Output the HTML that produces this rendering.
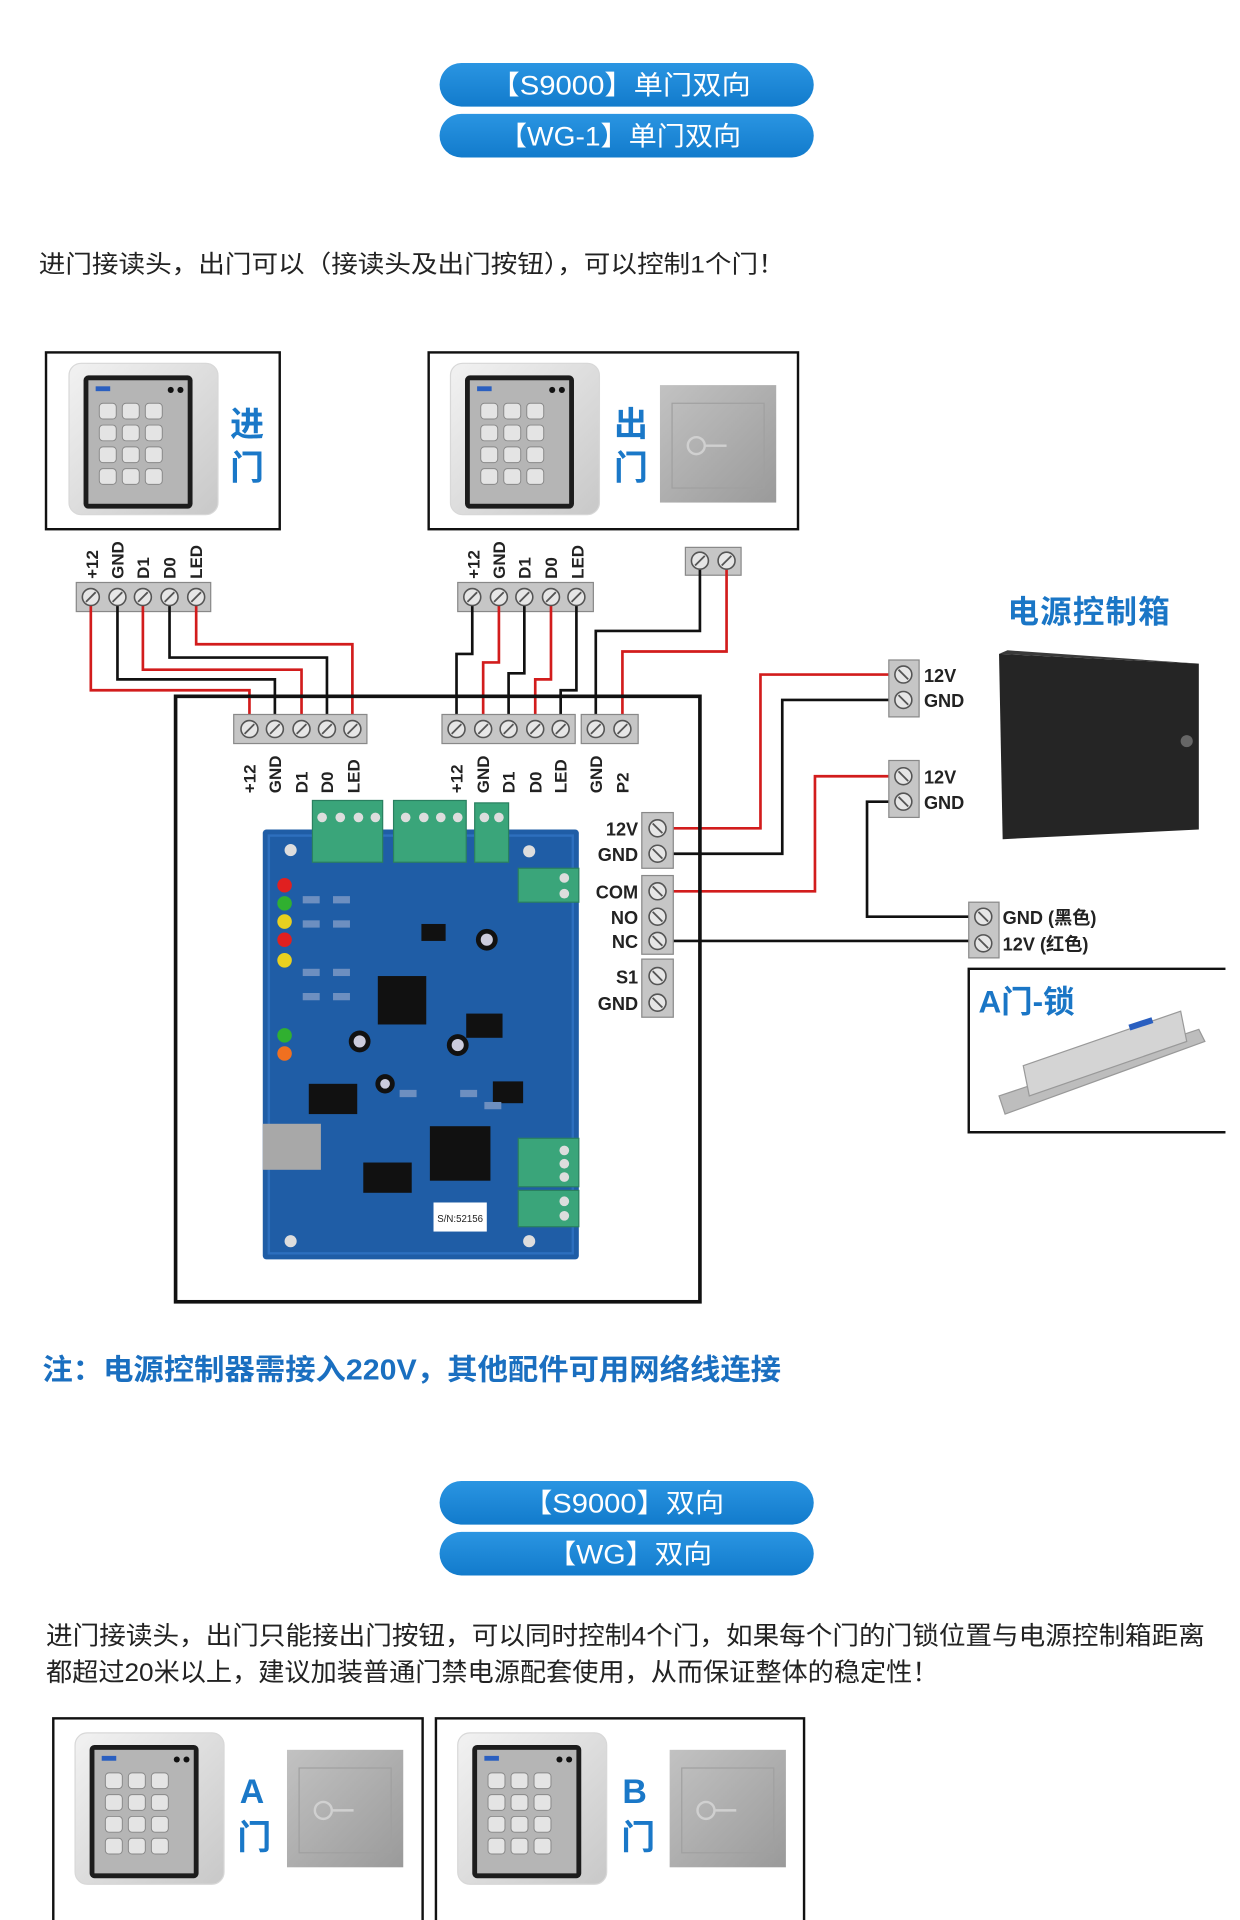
<!DOCTYPE html>
<html><head><meta charset="utf-8"><style>
html,body{margin:0;padding:0;background:#fff;}
svg{display:block;}
text{font-family:"Liberation Sans","Noto Sans CJK SC",sans-serif;}
</style></head><body>
<svg width="1240" height="1920" viewBox="0 0 1024 1585.5" xmlns="http://www.w3.org/2000/svg">
<defs>
<linearGradient id="pill" x1="0" y1="0" x2="0" y2="1"><stop offset="0" stop-color="#2a95e2"/><stop offset="1" stop-color="#127bcc"/></linearGradient>
<linearGradient id="btn" x1="0" y1="0" x2="1" y2="1"><stop offset="0" stop-color="#c2c2c2"/><stop offset="1" stop-color="#9a9a9a"/></linearGradient>
<linearGradient id="kp" x1="0" y1="0" x2="1" y2="1"><stop offset="0" stop-color="#f2f2f2"/><stop offset="1" stop-color="#c8c8c8"/></linearGradient>
<g id="keypad">
<rect x="0" y="0" width="123" height="125" rx="10" fill="url(#kp)" stroke="#d8d8d8"/>
<rect x="12" y="10" width="90" height="110" rx="4" fill="#1c1c1c"/>
<rect x="16" y="14" width="82" height="102" fill="#b5b5b5"/>
<circle cx="84" cy="22" r="2.5" fill="#111"/><circle cx="92" cy="22" r="2.5" fill="#111"/>
<rect x="22" y="19" width="12" height="4" fill="#2a5fc0"/>
<g fill="#e4e4e4" stroke="#888" stroke-width="0.8">
<rect x="25" y="33" width="14" height="13" rx="3"/><rect x="44" y="33" width="14" height="13" rx="3"/><rect x="63" y="33" width="14" height="13" rx="3"/>
<rect x="25" y="51" width="14" height="13" rx="3"/><rect x="44" y="51" width="14" height="13" rx="3"/><rect x="63" y="51" width="14" height="13" rx="3"/>
<rect x="25" y="69" width="14" height="13" rx="3"/><rect x="44" y="69" width="14" height="13" rx="3"/><rect x="63" y="69" width="14" height="13" rx="3"/>
<rect x="25" y="87" width="14" height="13" rx="3"/><rect x="44" y="87" width="14" height="13" rx="3"/><rect x="63" y="87" width="14" height="13" rx="3"/>
</g>
</g>
<g id="exitbtn">
<rect x="0" y="0" width="96" height="97" fill="url(#btn)"/>
<rect x="10" y="15" width="76" height="70" fill="none" stroke="#a0a0a0"/>
<circle cx="30" cy="50" r="7" fill="none" stroke="#d0d0d0" stroke-width="2"/>
<line x1="37" y1="50" x2="55" y2="50" stroke="#d0d0d0" stroke-width="2"/>
</g>
<g id="screw"><circle r="7" fill="#e6e6e6" stroke="#555" stroke-width="1.3"/><line x1="-4" y1="4" x2="4" y2="-4" stroke="#555" stroke-width="1.5"/></g>
<g id="screwh"><circle r="7" fill="#e6e6e6" stroke="#555" stroke-width="1.3"/><line x1="-4" y1="-4" x2="4" y2="4" stroke="#555" stroke-width="1.5"/></g>
</defs>

<!-- pills -->
<rect x="363" y="52" width="309" height="36" rx="18" fill="url(#pill)"/>
<text x="405" y="78" font-size="22" fill="#fff" textLength="215" lengthAdjust="spacingAndGlyphs">【S9000】单门双向</text>
<rect x="363" y="94" width="309" height="36" rx="18" fill="url(#pill)"/>
<text x="412" y="120" font-size="22" fill="#fff" textLength="200" lengthAdjust="spacingAndGlyphs">【WG-1】单门双向</text>

<text x="32" y="225" font-size="20" fill="#222" textLength="616" lengthAdjust="spacingAndGlyphs">进门接读头，出门可以（接读头及出门按钮），可以控制1个门！</text>

<!-- top boxes -->
<rect x="38" y="291" width="193" height="146" fill="none" stroke="#111" stroke-width="2"/>
<use href="#keypad" x="57" y="300"/>
<text x="190" y="360" font-size="28" font-weight="bold" fill="#1a78c8">进</text>
<text x="190" y="396" font-size="28" font-weight="bold" fill="#1a78c8">门</text>
<rect x="354" y="291" width="305" height="146" fill="none" stroke="#111" stroke-width="2"/>
<use href="#keypad" x="372" y="300"/>
<text x="507" y="360" font-size="28" font-weight="bold" fill="#1a78c8">出</text>
<text x="507" y="396" font-size="28" font-weight="bold" fill="#1a78c8">门</text>
<use href="#exitbtn" x="545" y="318"/>

<!-- upper labels -->
<g font-size="14" font-weight="bold" fill="#222">
<text transform="translate(81,478) rotate(-90)">+12</text>
<text transform="translate(102,478) rotate(-90)">GND</text>
<text transform="translate(123,478) rotate(-90)">D1</text>
<text transform="translate(145,478) rotate(-90)">D0</text>
<text transform="translate(167,478) rotate(-90)">LED</text>
<text transform="translate(396,478) rotate(-90)">+12</text>
<text transform="translate(417,478) rotate(-90)">GND</text>
<text transform="translate(438,478) rotate(-90)">D1</text>
<text transform="translate(460,478) rotate(-90)">D0</text>
<text transform="translate(482,478) rotate(-90)">LED</text>
</g>

<!-- upper terminal blocks -->
<rect x="63" y="481" width="111" height="24" fill="#c6c6c6" stroke="#888"/>
<rect x="378" y="481" width="112" height="24" fill="#c6c6c6" stroke="#888"/>
<rect x="566" y="452" width="46" height="23" fill="#c6c6c6" stroke="#888"/>

<!-- wires -->
<g fill="none" stroke-width="2.2">
<polyline points="75,493 75,570 206,570 206,602" stroke="#d21c1c"/>
<polyline points="97,493 97,561 227,561 227,602" stroke="#111"/>
<polyline points="118,493 118,553 249,553 249,602" stroke="#d21c1c"/>
<polyline points="140,493 140,543 270,543 270,602" stroke="#111"/>
<polyline points="162,493 162,532 291,532 291,602" stroke="#d21c1c"/>
<polyline points="390,493 390,540 377,540 377,602" stroke="#111"/>
<polyline points="412,493 412,547 399,547 399,602" stroke="#d21c1c"/>
<polyline points="433,493 433,556 420,556 420,602" stroke="#111"/>
<polyline points="455,493 455,561 442,561 442,602" stroke="#d21c1c"/>
<polyline points="476,493 476,570 463,570 463,602" stroke="#111"/>
<polyline points="578,463 578,521 492,521 492,602" stroke="#111"/>
<polyline points="600,463 600,538 514,538 514,602" stroke="#d21c1c"/>
<polyline points="556,684 628,684 628,557 734,557" stroke="#d21c1c"/>
<polyline points="556,705 646,705 646,578 734,578" stroke="#111"/>
<polyline points="556,736 673,736 673,641 734,641" stroke="#d21c1c"/>
<polyline points="734,662 716,662 716,757 800,757" stroke="#111"/>
<polyline points="556,777 800,777" stroke="#111"/>
</g>

<!-- main box -->
<rect x="145" y="575" width="433" height="500" fill="none" stroke="#111" stroke-width="3"/>

<!-- upper screws -->
<use href="#screw" x="75" y="493"/><use href="#screw" x="97" y="493"/><use href="#screw" x="118" y="493"/><use href="#screw" x="140" y="493"/><use href="#screw" x="162" y="493"/>
<use href="#screw" x="390" y="493"/><use href="#screw" x="412" y="493"/><use href="#screw" x="433" y="493"/><use href="#screw" x="455" y="493"/><use href="#screw" x="476" y="493"/>
<use href="#screw" x="578" y="463"/><use href="#screw" x="600" y="463"/>

<!-- board terminal blocks -->
<rect x="193" y="590" width="110" height="24" fill="#c6c6c6" stroke="#888"/>
<rect x="365" y="590" width="110" height="24" fill="#c6c6c6" stroke="#888"/>
<rect x="480" y="590" width="47" height="24" fill="#c6c6c6" stroke="#888"/>
<use href="#screw" x="206" y="602"/><use href="#screw" x="227" y="602"/><use href="#screw" x="249" y="602"/><use href="#screw" x="270" y="602"/><use href="#screw" x="291" y="602"/>
<use href="#screw" x="377" y="602"/><use href="#screw" x="399" y="602"/><use href="#screw" x="420" y="602"/><use href="#screw" x="442" y="602"/><use href="#screw" x="463" y="602"/>
<use href="#screw" x="492" y="602"/><use href="#screw" x="514" y="602"/>
<g font-size="14" font-weight="bold" fill="#222">
<text transform="translate(211,655) rotate(-90)">+12</text>
<text transform="translate(232,655) rotate(-90)">GND</text>
<text transform="translate(254,655) rotate(-90)">D1</text>
<text transform="translate(275,655) rotate(-90)">D0</text>
<text transform="translate(297,655) rotate(-90)">LED</text>
<text transform="translate(382,655) rotate(-90)">+12</text>
<text transform="translate(404,655) rotate(-90)">GND</text>
<text transform="translate(425,655) rotate(-90)">D1</text>
<text transform="translate(447,655) rotate(-90)">D0</text>
<text transform="translate(468,655) rotate(-90)">LED</text>
<text transform="translate(497,655) rotate(-90)">GND</text>
<text transform="translate(519,655) rotate(-90)">P2</text>
</g>

<!-- right board terminals -->
<rect x="530" y="671" width="26" height="46" fill="#c6c6c6" stroke="#888"/>
<rect x="530" y="723" width="26" height="65" fill="#c6c6c6" stroke="#888"/>
<rect x="530" y="792" width="26" height="48" fill="#c6c6c6" stroke="#888"/>
<use href="#screwh" x="543" y="684"/><use href="#screwh" x="543" y="705"/>
<use href="#screwh" x="543" y="736"/><use href="#screwh" x="543" y="757"/><use href="#screwh" x="543" y="777"/>
<use href="#screwh" x="543" y="806"/><use href="#screwh" x="543" y="828"/>
<g font-size="15" font-weight="bold" fill="#222" text-anchor="end">
<text x="527" y="690">12V</text><text x="527" y="711">GND</text>
<text x="527" y="742">COM</text><text x="527" y="763">NO</text><text x="527" y="783">NC</text>
<text x="527" y="812">S1</text><text x="527" y="834">GND</text>
</g>

<!-- PCB -->
<rect x="217" y="685" width="261" height="355" rx="3" fill="#1f5da6"/>
<rect x="222" y="690" width="251" height="345" fill="none" stroke="#2d6fbe" stroke-width="2"/>
<g fill="#3aa57a" stroke="#2a8060">
<rect x="258" y="661" width="58" height="51"/><rect x="325" y="661" width="60" height="51"/><rect x="392" y="663" width="28" height="49"/>
<rect x="428" y="717" width="50" height="28"/><rect x="428" y="940" width="50" height="40"/><rect x="428" y="983" width="50" height="30"/>
</g>
<g fill="#ddd"><circle cx="266" cy="675" r="4"/><circle cx="281" cy="675" r="4"/><circle cx="296" cy="675" r="4"/><circle cx="310" cy="675" r="4"/>
<circle cx="335" cy="675" r="4"/><circle cx="350" cy="675" r="4"/><circle cx="364" cy="675" r="4"/><circle cx="378" cy="675" r="4"/>
<circle cx="400" cy="675" r="4"/><circle cx="412" cy="675" r="4"/><circle cx="466" cy="725" r="4"/><circle cx="466" cy="738" r="4"/>
<circle cx="466" cy="950" r="4"/><circle cx="466" cy="961" r="4"/><circle cx="466" cy="972" r="4"/><circle cx="466" cy="992" r="4"/><circle cx="466" cy="1004" r="4"/>
<circle cx="240" cy="702" r="5"/><circle cx="437" cy="703" r="5"/><circle cx="240" cy="1025" r="5"/><circle cx="437" cy="1025" r="5"/></g>
<circle cx="235" cy="731" r="6" fill="#e02020"/><circle cx="235" cy="746" r="6" fill="#30b030"/><circle cx="235" cy="761" r="6" fill="#e8d020"/><circle cx="235" cy="776" r="6" fill="#e02020"/><circle cx="235" cy="793" r="6" fill="#e8d020"/>
<circle cx="235" cy="855" r="6" fill="#30b030"/><circle cx="235" cy="870" r="6" fill="#f07020"/>
<g fill="#111"><rect x="312" y="806" width="40" height="40"/><rect x="348" y="763" width="20" height="14"/><rect x="385" y="837" width="30" height="20"/>
<rect x="255" y="895" width="40" height="25"/><rect x="300" y="960" width="40" height="25"/><rect x="355" y="930" width="50" height="45"/><rect x="407" y="893" width="25" height="18"/>
<circle cx="402" cy="776" r="9"/><circle cx="297" cy="860" r="9"/><circle cx="378" cy="863" r="9"/><circle cx="318" cy="895" r="8"/></g>
<g fill="#ccd"><circle cx="402" cy="776" r="5"/><circle cx="297" cy="860" r="5"/><circle cx="378" cy="863" r="5"/><circle cx="318" cy="895" r="4"/></g>
<g fill="#6d8fc0"><rect x="250" y="740" width="14" height="6"/><rect x="250" y="760" width="14" height="6"/><rect x="275" y="740" width="14" height="6"/><rect x="275" y="760" width="14" height="6"/><rect x="250" y="800" width="14" height="6"/><rect x="275" y="800" width="14" height="6"/><rect x="250" y="820" width="14" height="6"/><rect x="275" y="820" width="14" height="6"/><rect x="380" y="900" width="14" height="6"/><rect x="330" y="900" width="14" height="6"/><rect x="400" y="910" width="14" height="6"/></g>
<rect x="217" y="928" width="48" height="38" fill="#a8a8a8"/>
<rect x="358" y="993" width="44" height="24" fill="#fff"/>
<text x="380" y="1009" font-size="8" text-anchor="middle" fill="#222" font-family="Liberation Serif">S/N:52156</text>

<!-- power box -->
<text x="832" y="514" font-size="26" font-weight="bold" fill="#1a76c6" letter-spacing="1">电源控制箱</text>
<polygon points="825,540 990,548 990,685 828,693" fill="#252525"/>
<polygon points="825,540 832,537 990,548" fill="#3a3a3a"/>
<circle cx="980" cy="612" r="5" fill="#666"/>
<rect x="734" y="545" width="25" height="47" fill="#c6c6c6" stroke="#888"/>
<rect x="734" y="628" width="25" height="47" fill="#c6c6c6" stroke="#888"/>
<use href="#screwh" x="746" y="557"/><use href="#screwh" x="746" y="578"/><use href="#screwh" x="746" y="641"/><use href="#screwh" x="746" y="662"/>
<g font-size="15" font-weight="bold" fill="#222">
<text x="763" y="563">12V</text><text x="763" y="584">GND</text><text x="763" y="647">12V</text><text x="763" y="668">GND</text>
</g>

<!-- lock -->
<rect x="800" y="745" width="25" height="46" fill="#c6c6c6" stroke="#888"/>
<use href="#screwh" x="812" y="757"/><use href="#screwh" x="812" y="779"/>
<text x="828" y="763" font-size="15" font-weight="bold" fill="#222">GND (黑色)</text>
<text x="828" y="785" font-size="15" font-weight="bold" fill="#222">12V (红色)</text>
<polyline points="1012,800 800,800 800,935 1012,935" fill="none" stroke="#111" stroke-width="2"/>
<text x="808" y="836" font-size="26" font-weight="bold" fill="#1a76c6">A门-锁</text>
<polygon points="825,905 990,850 995,860 830,920" fill="#bdbdbd" stroke="#999"/>
<polygon points="845,880 975,835 980,860 850,905" fill="#d4d4d4" stroke="#999"/>
<rect x="932" y="843" width="20" height="5" fill="#2a5fc0" transform="rotate(-18 942 845)"/>

<!-- note -->
<text x="35" y="1139" font-size="24" fill="#1a6fc0" font-weight="bold" textLength="610" lengthAdjust="spacingAndGlyphs">注：电源控制器需接入220V，其他配件可用网络线连接</text>

<!-- second section -->
<rect x="363" y="1223" width="309" height="36" rx="18" fill="url(#pill)"/>
<text x="432" y="1249" font-size="22" fill="#fff" textLength="166" lengthAdjust="spacingAndGlyphs">【S9000】双向</text>
<rect x="363" y="1265" width="309" height="36" rx="18" fill="url(#pill)"/>
<text x="452" y="1291" font-size="22" fill="#fff" textLength="136" lengthAdjust="spacingAndGlyphs">【WG】双向</text>
<text x="38" y="1358" font-size="21" fill="#222" textLength="957" lengthAdjust="spacingAndGlyphs">进门接读头，出门只能接出门按钮，可以同时控制4个门，如果每个门的门锁位置与电源控制箱距离</text>
<text x="38" y="1388" font-size="21" fill="#222" textLength="737" lengthAdjust="spacingAndGlyphs">都超过20米以上，建议加装普通门禁电源配套使用，从而保证整体的稳定性！</text>

<rect x="44" y="1419" width="305" height="180" fill="none" stroke="#111" stroke-width="2"/>
<use href="#keypad" x="62" y="1431"/>
<text x="198" y="1489" font-size="28" font-weight="bold" fill="#1a78c8">A</text>
<text x="196" y="1527" font-size="28" font-weight="bold" fill="#1a78c8">门</text>
<use href="#exitbtn" x="237" y="1445"/>
<rect x="360" y="1419" width="304" height="180" fill="none" stroke="#111" stroke-width="2"/>
<use href="#keypad" x="378" y="1431"/>
<text x="514" y="1489" font-size="28" font-weight="bold" fill="#1a78c8">B</text>
<text x="513" y="1527" font-size="28" font-weight="bold" fill="#1a78c8">门</text>
<use href="#exitbtn" x="553" y="1445"/>
</svg>
</body></html>
